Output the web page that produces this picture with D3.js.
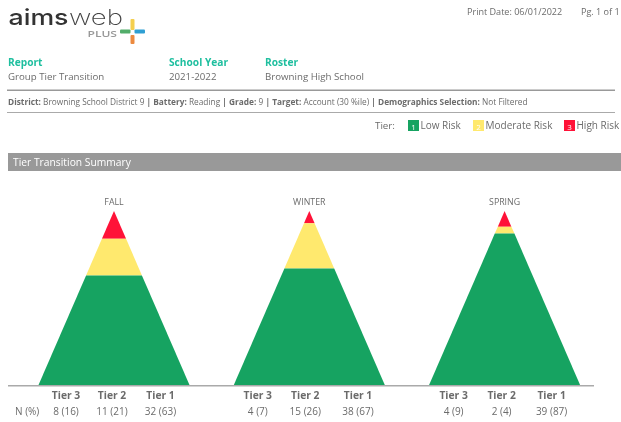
<!DOCTYPE html>
<html><head><meta charset="utf-8">
<script src="https://cdn.jsdelivr.net/npm/d3@7"></script>
<style>
html,body{margin:0;padding:0;background:#fff;overflow:hidden}
svg{display:block;filter:blur(0.45px)}
text{font-family:"Open Sans",sans-serif;fill:#6b6b6b}
</style></head><body><svg id="c" width="621" height="422"></svg>
<script>
const seasons = ["FALL","WINTER","SPRING"];
const tiers = ["Tier 3","Tier 2","Tier 1"];
const tierCounts = [[8,11,32],[4,15,38],[4,2,39]];
const tierPercents = [[16,21,63],[7,26,67],[9,4,87]];
const tierColors = ["#ff1238","#ffe96e","#16a361"];
const legendItems = ["Low Risk","Moderate Risk","High Risk"];
const legendNums = ["1","2","3"];
const headerLabels = ["Report","School Year","Roster"];
const headerValues = ["Group Tier Transition","2021-2022","Browning High School"];
const filters = [["District:","Browning School District 9"],["Battery:","Reading"],["Grade:","9"],["Target:","Account (30 %ile)"],["Demographics Selection:","Not Filtered"]];

const svg = d3.select("#c");
const T=(x,y,s,o={})=>svg.append("text").attr("x",x).attr("y",y)
  .attr("font-size",o.size||9.5).attr("font-weight",o.weight||400)
  .attr("text-anchor",o.anchor||"start").style("fill",o.fill||"#6b6b6b").text(s);

// logo
T(8.5,25,"aims",{size:22,weight:500,fill:"#333"}).style("font-family","Inter").attr("textLength",60).attr("lengthAdjust","spacingAndGlyphs");
T(69,25,"web",{size:22,weight:200,fill:"#444"}).style("font-family","Inter").attr("textLength",54).attr("lengthAdjust","spacingAndGlyphs");
T(87.5,36.5,"PLUS",{size:8.5,weight:600,fill:"#999"}).attr("textLength",29.5).attr("lengthAdjust","spacingAndGlyphs");
[[130.5,19,4,11,"#f4cf4f"],[130.5,35,4,9,"#ec8a3f"],[120,29.5,10.5,4,"#52ad6a"],[134.5,29.5,10.5,4,"#2f9fd3"]].forEach(r=>
  svg.append("rect").attr("x",r[0]).attr("y",r[1]).attr("width",r[2]).attr("height",r[3]).attr("rx",1).attr("fill",r[4]));

// print info
T(467,14.5,"Print Date: 06/01/2022",{size:9.05});
T(581,14.5,"Pg. 1 of 1",{size:9.05});

// header
const headerX=[8,169,265];
headerLabels.forEach((d,i)=>{
  T(headerX[i],65.5,d,{size:10.2,weight:700,fill:"#1fbf9f"});
  T(headerX[i],79.5,headerValues[i],{size:9.7});
});
svg.append("rect").attr("x",7).attr("y",89.5).attr("width",608).attr("height",1.5).attr("fill","#999");
svg.append("rect").attr("x",7).attr("y",112).attr("width",608).attr("height",1).attr("fill","#aaa");
const ft=T(8,105,"",{size:8.3});
filters.forEach((f,i)=>{
  ft.append("tspan").attr("font-weight",700).text(f[0]);
  ft.append("tspan").text(" "+f[1]+(i<filters.length-1?" ":""));
  if(i<filters.length-1) ft.append("tspan").attr("font-weight",700).text("| ");
});

// legend
T(375,129,"Tier:",{size:9.8});
const legendBoxX=[408,473,564], legendFills=[tierColors[2],tierColors[1],tierColors[0]];
legendItems.forEach((d,i)=>{
  svg.append("rect").attr("x",legendBoxX[i]).attr("y",120).attr("width",11).attr("height",11).attr("fill",legendFills[i]);
  T(legendBoxX[i]+5.5,130,legendNums[i],{size:8,anchor:"middle",fill:"#fff"});
  T(legendBoxX[i]+12.5,129,d,{size:10});
});

// section bar
svg.append("rect").attr("x",8).attr("y",153).attr("width",613).attr("height",18).attr("fill","#999");
T(13,166,"Tier Transition Summary",{size:10.3,fill:"#fff"});

// pyramids
const baseY=385, apexY=211, halfW=75.5;
const xC=d3.scalePoint().domain(seasons).range([114,504.6]);
const y=d3.scaleLinear().domain([0,100]).range([apexY,baseY]);
const labelOff=[[-48,-2,46.5],[-51.5,-4,48.7],[-51,-3,47]];
seasons.forEach((s,si)=>{
  const c=xC(s), w=d3.scaleLinear().domain([0,100]).range([0,halfW]);
  const line=d3.line().x(d=>c+d[0]*w(d[1])).y(d=>y(d[1]));
  let cum=0;
  tierPercents[si].forEach((p,i)=>{
    const a=cum,b=i===2?100:cum+p; cum=b;
    svg.append("path").attr("d",line([[-1,a],[1,a],[1,b],[-1,b]])+"Z").attr("fill",tierColors[i]);
    T(c+labelOff[si][i],399,tiers[i],{size:10.3,weight:700,anchor:"middle"});
    T(c+labelOff[si][i],414.5,`${tierCounts[si][i]} (${tierPercents[si][i]})`,{size:10,anchor:"middle"});
  });
  T(c,205,s,{size:8.8,anchor:"middle"});
});
svg.append("rect").attr("x",8).attr("y",385).attr("width",586).attr("height",1.5).attr("fill","#aaa");
T(15,414.5,"N (%)",{size:10});
</script></body></html>
